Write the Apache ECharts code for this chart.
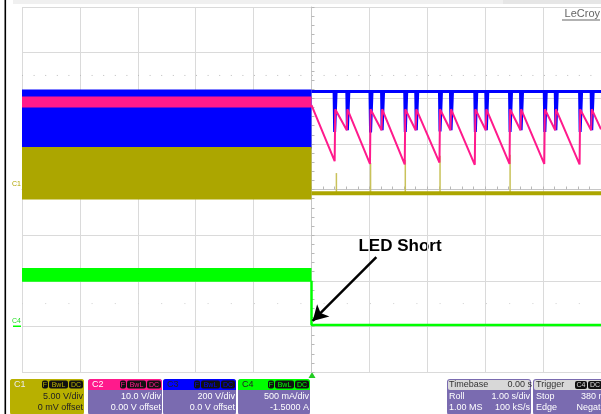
<!DOCTYPE html>
<html><head><meta charset="utf-8">
<script src="https://cdn.jsdelivr.net/npm/echarts@6/dist/echarts.min.js"></script>
<style>html,body{margin:0;padding:0;background:#fff}#c{width:601px;height:414px}</style>
</head><body><div id="c"></div><script>
// Time axis: seconds relative to trigger (Roll 1.00 s/div, 10 divisions)
const xMin = -5, xMax = 5;
// Vertical axis: screen divisions relative to the centre line (8 divisions)
const yMin = -4, yMax = 4;

// Pre-trigger envelopes: [tStart, tEnd, low, high] in divisions
const c3Band = [-5, 0, 0.90, 2.19];
const c2Band = [-5, 0, 1.80, 2.04];
const c1Band = [-5, 0, -0.22, 0.93];
const c4Band = [-5, 0, -2.02, -1.72];

// C3 (blue) after trigger: flat level with short negative spikes
const c3Level = 2.15;
const c3SpikeT   = [0.40, 0.62, 1.02, 1.22, 1.62, 1.81, 2.22, 2.41, 2.83, 3.02, 3.43, 3.62, 4.03, 4.22, 4.64, 4.84];
const c3SpikeLow = [1.26, 1.30, 1.25, 1.30, 1.26, 1.30, 1.27, 1.30, 1.26, 1.30, 1.26, 1.30, 1.26, 1.30, 1.26, 1.30];

// C2 (pink) sawtooth after trigger
const c2T = [0.00, 0.40, 0.41, 0.61, 0.62, 1.01, 1.02, 1.21, 1.22, 1.61, 1.62, 1.80, 1.81, 2.21, 2.22, 2.40, 2.41,
             2.82, 2.83, 3.01, 3.02, 3.42, 3.43, 3.61, 3.62, 4.02, 4.03, 4.21, 4.22, 4.63, 4.64, 4.83, 4.84, 5.00];
const c2V = [1.85, 0.62, 1.76, 1.30, 1.76, 0.56, 1.76, 1.30, 1.76, 0.55, 1.76, 1.30, 1.76, 0.59, 1.76, 1.30, 1.76,
             0.54, 1.76, 1.30, 1.76, 0.56, 1.76, 1.30, 1.76, 0.56, 1.76, 1.30, 1.76, 0.55, 1.76, 1.30, 1.76, 1.32];

// C1 (olive) after trigger: flat with a few narrow positive spikes
const c1Level = -0.08;
const c1SpikeT   = [0.43, 1.02, 1.62, 2.22, 3.43];
const c1SpikeTop = [0.36, 0.58, 0.65, 0.74, 0.76];

// C4 (green) after trigger
const c4T = [0.00, 0.00, 5.00];
const c4V = [-2.00, -2.97, -2.97];

// Annotation arrow [t, div]
const arrowFrom = [1.12, -1.48];
const arrowTo = [0.02, -2.88];

const BLUE = '#0000ff', PINK = '#ff1a8c', OLIVE = '#aca600', GREEN = '#00ff00';

function bandSeries(band, color) {
  return {
    type: 'custom', silent: true, clip: false, data: [band],
    encode: { x: [0, 1], y: [2, 3] },
    renderItem: (p, api) => {
      const a = api.coord([api.value(0), api.value(3)]);
      const b = api.coord([api.value(1), api.value(2)]);
      return { type: 'rect', shape: { x: a[0], y: a[1], width: b[0] - a[0], height: b[1] - a[1] }, style: { fill: color } };
    }
  };
}

const c3Data = [[0, c3Level]];
c3SpikeT.forEach((t, i) => {
  c3Data.push([t - 0.01, c3Level], [t, c3SpikeLow[i]], [t + 0.015, c3SpikeLow[i]], [t + 0.025, c3Level]);
});
c3Data.push([5, c3Level]);

const c2Data = c2T.map((t, i) => [t, c2V[i]]);
const c4Data = c4T.map((t, i) => [t, c4V[i]]);

const series = [
  { type: 'line', silent: true, symbol: 'none', data: [[xMin, 2.5], [xMax, 2.5]], lineStyle: { color: '#bdbdbd', width: 1, type: [1, 10.6] } },
  { type: 'line', silent: true, symbol: 'none', data: [[xMin, -2.5], [xMax, -2.5]], lineStyle: { color: '#d0d0d0', width: 1, type: [1, 22.2] } },
  bandSeries(c3Band, BLUE),
  bandSeries(c2Band, PINK),
  bandSeries(c1Band, OLIVE),
  bandSeries(c4Band, GREEN),
  { type: 'custom', silent: true, clip: false,
    data: c1SpikeT.map((t, i) => [t, c1Level, c1SpikeTop[i]]),
    encode: { x: 0, y: [1, 2] },
    renderItem: (p, api) => {
      const a = api.coord([api.value(0), api.value(1)]);
      const b = api.coord([api.value(0), api.value(2)]);
      return { type: 'line', shape: { x1: a[0], y1: a[1], x2: b[0], y2: b[1] }, style: { stroke: '#c9c25a', lineWidth: 1.5 } };
    } },
  { type: 'line', silent: true, symbol: 'none', data: [[0, c1Level], [5, c1Level]], lineStyle: { color: OLIVE, width: 4 } },
  { type: 'line', silent: true, symbol: 'none', data: c3Data, lineStyle: { color: BLUE, width: 3, join: 'miter' } },
  { type: 'line', silent: true, symbol: 'none', data: c2Data, lineStyle: { color: PINK, width: 2 } },
  { type: 'line', silent: true, symbol: 'none', data: c4Data, lineStyle: { color: GREEN, width: 2.5 },
    markLine: { silent: true, symbol: ['none', 'arrow'], symbolSize: [13, 15],
      label: { show: false },
      lineStyle: { color: '#000', width: 2.5, type: 'solid' },
      data: [[{ coord: arrowFrom }, { coord: arrowTo }]] } }
];

function rect(x, y, w, h, fill, r) { return { type: 'rect', shape: { x, y, width: w, height: h, r: r || 0 }, style: { fill }, silent: true }; }
function txt(x, y, s, fill, align, size, weight) {
  return { type: 'text', x, y, rotation: 0, silent: true, style: { text: s, fill, align: align || 'left', verticalAlign: 'middle',
    fontFamily: '"Liberation Sans", Arial, sans-serif', fontSize: size || 9, fontWeight: weight || 'normal' } };
}

const PURPLE = '#7a6bb0';
const g = [];
g.push(rect(13, 0, 490, 4, '#f0f0f0'));
g.push(rect(503, 0, 98, 4, '#e6e6e6'));
g.push(rect(4.5, 0, 1.6, 414, '#000'));
g.push(txt(600, 14, 'LeCroy', '#666', 'right', 11));
g.push(rect(562, 19.5, 38, 1, '#666'));
// channel ground markers
g.push(txt(12, 184, 'C1', '#b0a400', 'left', 7));
g.push(txt(12, 321, 'C4', '#22dd22', 'left', 7));
g.push(rect(13, 325.5, 8, 1.5, GREEN));
// trigger marker
g.push({ type: 'polygon', silent: true, shape: { points: [[312, 372], [308.5, 378], [315.5, 378]] }, style: { fill: '#22cc22' } });
// annotation text
g.push(txt(400, 246, 'LED Short', '#000', 'center', 17, 'bold'));

function badges(x, y, col) {
  const parts = [['F', 6], ['BwL', 19], ['DC', 14]];
  let cx = x;
  parts.forEach(([s, w]) => { g.push(rect(cx, y, w, 8, '#111', 2)); g.push(txt(cx + w / 2, y + 4.2, s, col, 'center', 7)); cx += w + 1; });
}
function chBox(x, w, head, label, labCol, l1, l2, textCol, whole) {
  g.push(rect(x, 379, w, 36, whole ? head : PURPLE, 3));
  g.push(rect(x, 379, w, 11, head, 3));
  if (!whole) g.push(rect(x, 387, w, 3, head));
  g.push(txt(x + 4, 385, label, labCol, 'left', 9));
  badges(x + w - 42, 380.5, head);
  g.push(txt(x + w - 1, 397, l1, textCol, 'right', 9));
  g.push(txt(x + w - 1, 408, l2, textCol, 'right', 9));
}
chBox(10, 74, '#b8b000', 'C1', '#ececec', '5.00 V/div', '0 mV offset', '#222', true);
chBox(88, 74, '#ff1a8c', 'C2', '#fff', '10.0 V/div', '0.00 V offset', '#fff');
chBox(163, 73, '#0000ff', 'C3', '#222', '200 V/div', '0.0 V offset', '#fff');
chBox(238, 72, '#00ff00', 'C4', '#222', '500 mA/div', '-1.5000 A', '#fff');

g.push(rect(447, 379, 84, 36, PURPLE, 3));
g.push(rect(448, 380, 82, 10, '#d8d8d8', 2));
g.push(txt(449, 385, 'Timebase', '#333', 'left', 9));
g.push(txt(532, 385, '0.00 s', '#333', 'right', 9));
g.push(txt(449, 397, 'Roll', '#fff', 'left', 9));
g.push(txt(530, 397, '1.00 s/div', '#fff', 'right', 9));
g.push(txt(449, 408, '1.00 MS', '#fff', 'left', 9));
g.push(txt(530, 408, '100 kS/s', '#fff', 'right', 9));
g.push(rect(533, 379, 80, 36, PURPLE, 3));
g.push(rect(534, 380, 80, 10, '#d8d8d8', 2));
g.push(txt(536, 385, 'Trigger', '#333', 'left', 9));
g.push(rect(575, 381, 12, 8, '#111', 2));
g.push(txt(581, 385.2, 'C4', '#ddd', 'center', 7));
g.push(rect(588, 381, 14, 8, '#111', 2));
g.push(txt(595, 385.2, 'DC', '#ddd', 'center', 7));
g.push(txt(536, 397, 'Stop', '#fff', 'left', 9));
g.push(txt(612, 397, '380 mA', '#fff', 'right', 9));
g.push(txt(536, 408, 'Edge', '#fff', 'left', 9));
g.push(txt(612, 408, 'Negative', '#fff', 'right', 9));

const chart = echarts.init(document.getElementById('c'), null, { renderer: 'canvas' });
chart.setOption({
  animation: false,
  backgroundColor: '#fff',
  grid: { left: 22, top: 7, width: 580, height: 365, containLabel: false },
  xAxis: {
    type: 'value', min: xMin, max: xMax, interval: 1,
    axisLabel: { show: false },
    splitLine: { show: true, lineStyle: { color: '#dadada', width: 1 } },
    axisLine: { show: true, onZero: true, lineStyle: { color: '#c6c6c6', width: 1 } },
    axisTick: { show: true, inside: true, length: 3, lineStyle: { color: '#b8b8b8' } },
    minorTick: { show: true, splitNumber: 5, length: 3, lineStyle: { color: '#b8b8b8' } }
  },
  yAxis: {
    type: 'value', min: yMin, max: yMax, interval: 1,
    axisLabel: { show: false },
    splitLine: { show: true, lineStyle: { color: '#dadada', width: 1 } },
    axisLine: { show: true, onZero: true, lineStyle: { color: '#c6c6c6', width: 1 } },
    axisTick: { show: true, inside: true, length: 3, lineStyle: { color: '#b8b8b8' } },
    minorTick: { show: true, splitNumber: 5, length: 3, lineStyle: { color: '#b8b8b8' } }
  },
  series,
  graphic: { elements: g }
});
</script></body></html>
